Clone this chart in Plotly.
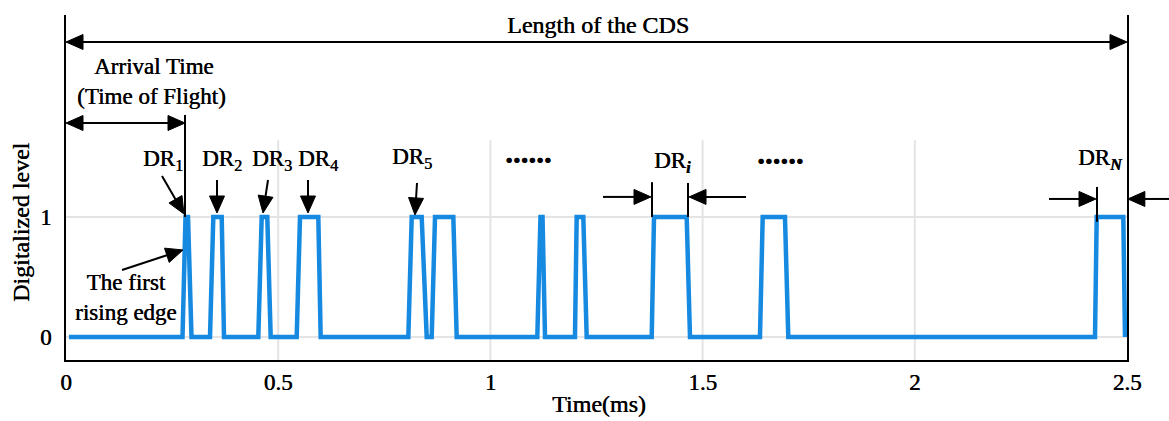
import math
import plotly.graph_objects as go

# Pulse edges of the digitalized CDS waveform (time in ms)
rise_start = [0.2745, 0.3393, 0.4531, 0.5436, 0.8066, 0.8617, 1.1105, 1.1993, 1.3801, 1.6352, 2.4246]
rise_end   = [0.2816, 0.3471, 0.4611, 0.5514, 0.8146, 0.8695, 1.1180, 1.2033, 1.3855, 1.6416, 2.4286]
fall_start = [0.2875, 0.3669, 0.4743, 0.5945, 0.8381, 0.9126, 1.1228, 1.2189, 1.4625, 1.6941, 2.4913]
fall_end   = [0.2957, 0.3723, 0.4823, 0.6001, 0.8499, 0.9206, 1.1287, 1.2269, 1.4703, 1.7019, 2.4953]
t_start = 0.007

x_ticks = [0, 0.5, 1, 1.5, 2, 2.5]
x_tick_text = ["0", "0.5", "1", "1.5", "2", "2.5"]
y_ticks = [0, 1]
y_tick_text = ["0", "1"]

# Build the trapezoidal waveform from the edge times
t = [t_start]
lvl = [0]
for a, b, c, d in zip(rise_start, rise_end, fall_start, fall_end):
    t += [a, b, c, d]
    lvl += [0, 1, 1, 0]

W, H = 1169, 421
M = dict(l=66, r=42, t=15, b=61)
X_RANGE = [0, 2.5]
Y_RANGE = [-0.192, 2.683]
# pixels per data unit, used to keep arrowheads a fixed pixel size
SX = (W - M["l"] - M["r"]) / (X_RANGE[1] - X_RANGE[0])
SY = (H - M["t"] - M["b"]) / (Y_RANGE[1] - Y_RANGE[0])

FONT = "Liberation Serif"
BLUE = "#1689e0"
GRID = "#e4e4e4"
SHADOW = "0.5px 0 0 black"


def to_paper(x, y):
    """Data coordinates -> paper fractions, so annotation graphics are never clipped."""
    return ((x - X_RANGE[0]) / (X_RANGE[1] - X_RANGE[0]),
            (y - Y_RANGE[0]) / (Y_RANGE[1] - Y_RANGE[0]))


fig = go.Figure()
fig.add_trace(go.Scatter(x=t, y=lvl, mode="lines",
                         line=dict(color=BLUE, width=4.5), hoverinfo="skip",
                         showlegend=False))

shapes = []
# light grid lines of the original plot area
for yv in y_ticks:
    shapes.append(dict(type="line", xref="x", yref="y", x0=X_RANGE[0], x1=X_RANGE[1],
                       y0=yv, y1=yv, line=dict(color=GRID, width=2), layer="below"))
for xv in x_ticks[1:-1]:
    shapes.append(dict(type="line", xref="x", yref="y", x0=xv, x1=xv, y0=Y_RANGE[0], y1=1.64,
                       line=dict(color=GRID, width=2), layer="below"))


def seg(x0, y0, x1, y1):
    (a, b), (c, d) = to_paper(x0, y0), to_paper(x1, y1)
    shapes.append(dict(type="line", xref="paper", yref="paper", x0=a, y0=b, x1=c, y1=d,
                       line=dict(color="black", width=2)))


# marker lines for arrival time and pulse widths
for x0, y0, y1 in [(0.2804, 1.85, 1.0), (1.3808, 1.29, 1.0), (1.4656, 1.283, 1.0),
                   (2.4293, 1.25, 0.96)]:
    seg(x0, y0, x0, y1)


def head(tx, ty, fx, fy, length=17, half=7.5):
    """Filled triangular head at (tx, ty) pointing away from (fx, fy); returns base point."""
    dx, dy = (tx - fx) * SX, (ty - fy) * SY
    n = math.hypot(dx, dy)
    ux, uy = dx / n, dy / n
    bx, by = tx - ux * length / SX, ty - uy * length / SY
    px, py = -uy, ux
    pts = [to_paper(tx, ty),
           to_paper(bx + px * half / SX, by + py * half / SY),
           to_paper(bx - px * half / SX, by - py * half / SY)]
    path = "M{},{} L{},{} L{},{} Z".format(*[v for p in pts for v in p])
    shapes.append(dict(type="path", xref="paper", yref="paper", path=path,
                       fillcolor="black", line=dict(color="black", width=1)))
    return bx, by


def arrow(x, y, ax, ay, both=False):
    ex, ey = head(x, y, ax, ay)
    sx, sy = (ax, ay)
    if both:
        sx, sy = head(ax, ay, x, y)
    seg(sx, sy, ex, ey)


ann = []


def text(x, y, s, size=23):
    ann.append(dict(x=x, y=y, xref="x", yref="y", text=s, showarrow=False,
                    font=dict(family=FONT, size=size, color="black", shadow=SHADOW),
                    xanchor="center", yanchor="middle"))


text(1.2535, 2.60, "Length of the CDS", 24)
arrow(2.5, 2.458, 0.0, 2.458, both=True)

text(0.205, 2.25, "Arrival Time", 23)
text(0.2026, 2.0, "(Time of Flight)", 23)
arrow(0.2804, 1.783, 0.0, 1.783, both=True)

text(0.2286, 1.475, "DR<sub>1</sub>")
text(0.3676, 1.475, "DR<sub>2</sub>")
text(0.4854, 1.475, "DR<sub>3</sub>")
text(0.5938, 1.475, "DR<sub>4</sub>")
text(0.8153, 1.49, "DR<sub>5</sub>")
text(1.428, 1.46, "DR<sub><b><i>i</i></b></sub>")
text(2.4387, 1.48, "DR<sub><b><i>N</i></b></sub>")
text(1.0886, 1.54, "<b>......</b>", 31)
text(1.6847, 1.53, "<b>......</b>", 31)
text(0.1413, 0.33, "The first<br>rising edge")

arrow(0.278, 1.025, 0.2262, 1.342)
arrow(0.3558, 1.033, 0.3558, 1.308)
arrow(0.4642, 1.033, 0.476, 1.308)
arrow(0.5702, 1.033, 0.5702, 1.308)
arrow(0.8223, 1.017, 0.827, 1.283)
arrow(1.3784, 1.167, 1.2653, 1.167)
arrow(1.468, 1.167, 1.6023, 1.167)
arrow(2.427, 1.15, 2.3162, 1.15)
arrow(2.502, 1.15, 2.599, 1.15)
arrow(0.2757, 0.725, 0.132, 0.558)

tick_font = dict(family=FONT, size=23, color="black", shadow=SHADOW)
title_font = dict(family=FONT, size=24, color="black", shadow=SHADOW)

# axis titles
ann.append(dict(x=(599 - M["l"]) / (W - M["l"] - M["r"]), y=0, xref="paper", yref="paper",
                yshift=-44, text="Time(ms)", showarrow=False, font=title_font,
                xanchor="center", yanchor="middle"))
ann.append(dict(x=0, y=0.40, xref="paper", yref="paper", xshift=-45,
                text="Digitalized level", textangle=-90, showarrow=False, font=title_font,
                xanchor="center", yanchor="middle"))

fig.update_layout(
    width=W, height=H,
    margin=dict(M, autoexpand=False),
    paper_bgcolor="white", plot_bgcolor="white",
    shapes=shapes, annotations=ann,
    font=dict(family=FONT, color="black"),
    xaxis=dict(range=X_RANGE, tickvals=x_ticks, ticktext=x_tick_text, ticks="",
               showgrid=False, zeroline=False, showline=True, linecolor="black",
               linewidth=2, mirror=False, tickfont=tick_font, automargin=False),
    yaxis=dict(range=Y_RANGE, tickvals=y_ticks, ticktext=y_tick_text, ticks="",
               showgrid=False, zeroline=False, showline=True, linecolor="black",
               linewidth=2, mirror=True, tickfont=tick_font, automargin=False,
               ticklabelstandoff=8),
)

fig.write_html("out.html")
